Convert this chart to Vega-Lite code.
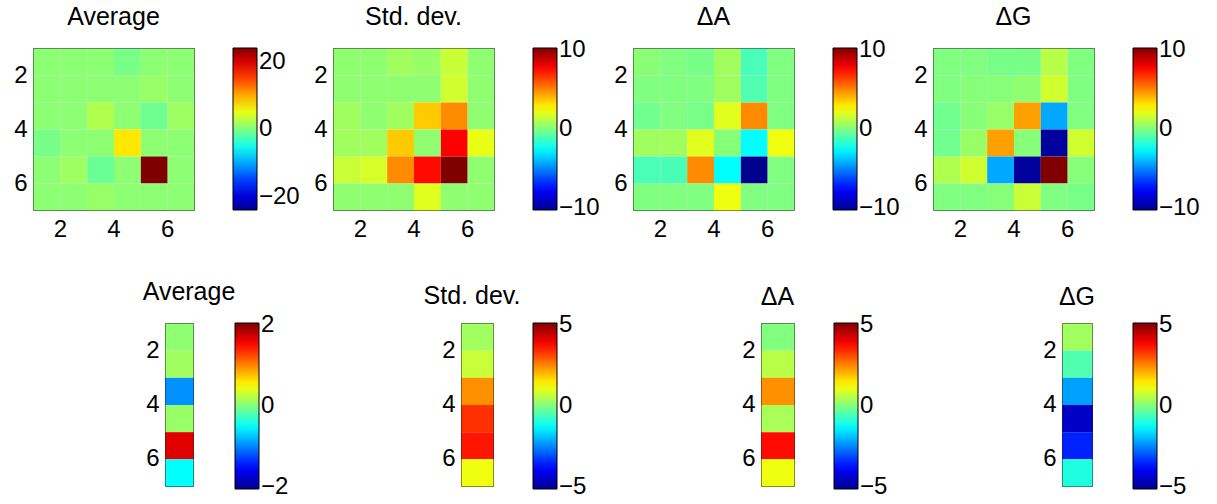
{
  "$schema": "https://vega.github.io/schema/vega-lite/v6.json",
  "padding": {"left": 13, "top": 4, "right": 5, "bottom": 5},
  "config": {
    "font": "Liberation Sans",
    "view": {"stroke": "#222", "strokeWidth": 1},
    "axis": {"labelFont": "Liberation Sans", "labelFontSize": 24, "labelColor": "#000", "ticks": false, "domain": false, "grid": false, "labelFlush": false, "labelOverlap": false, "title": null},
    "axisX": {"labelPadding": 7},
    "axisY": {"labelPadding": 6},
    "legend": {"labelFont": "Liberation Sans", "labelFontSize": 24, "labelColor": "#000", "labelOffset": 6, "gradientStrokeColor": "#000", "gradientStrokeWidth": 1, "gradientThickness": 24, "padding": 0, "labelOverlap": false, "offset": 39, "direction": "vertical"},
    "title": {"font": "Liberation Sans", "fontSize": 25, "fontWeight": "normal", "color": "#000", "offset": 18}
  },
  "datasets": {
    "avg": [
      {"x":1,"y":1,"v":0.6},{"x":2,"y":1,"v":0.6},{"x":3,"y":1,"v":0.6},{"x":4,"y":1,"v":-0.4},{"x":5,"y":1,"v":0.6},{"x":6,"y":1,"v":0.6},
      {"x":1,"y":2,"v":0.6},{"x":2,"y":2,"v":0.6},{"x":3,"y":2,"v":0.6},{"x":4,"y":2,"v":0.6},{"x":5,"y":2,"v":1.2},{"x":6,"y":2,"v":0.6},
      {"x":1,"y":3,"v":0.6},{"x":2,"y":3,"v":0.6},{"x":3,"y":3,"v":2.3},{"x":4,"y":3,"v":0.6},{"x":5,"y":3,"v":-0.8},{"x":6,"y":3,"v":1.4},
      {"x":1,"y":4,"v":-0.4},{"x":2,"y":4,"v":0.6},{"x":3,"y":4,"v":0.6},{"x":4,"y":4,"v":7.1},{"x":5,"y":4,"v":0.6},{"x":6,"y":4,"v":0.6},
      {"x":1,"y":5,"v":0.6},{"x":2,"y":5,"v":1.4},{"x":3,"y":5,"v":-1.0},{"x":4,"y":5,"v":0.6},{"x":5,"y":5,"v":24},{"x":6,"y":5,"v":0.6},
      {"x":1,"y":6,"v":0.6},{"x":2,"y":6,"v":0.6},{"x":3,"y":6,"v":1.2},{"x":4,"y":6,"v":0.6},{"x":5,"y":6,"v":0.6},{"x":6,"y":6,"v":0.6}
    ],
    "std": [
      {"x":1,"y":1,"v":0.3},{"x":2,"y":1,"v":0.3},{"x":3,"y":1,"v":0.65},{"x":4,"y":1,"v":0.5},{"x":5,"y":1,"v":1.45},{"x":6,"y":1,"v":0.3},
      {"x":1,"y":2,"v":0.3},{"x":2,"y":2,"v":0.3},{"x":3,"y":2,"v":0.3},{"x":4,"y":2,"v":0.3},{"x":5,"y":2,"v":1.6},{"x":6,"y":2,"v":0.3},
      {"x":1,"y":3,"v":0.65},{"x":2,"y":3,"v":0.3},{"x":3,"y":3,"v":0.65},{"x":4,"y":3,"v":3.6},{"x":5,"y":3,"v":4.85},{"x":6,"y":3,"v":0.3},
      {"x":1,"y":4,"v":0.65},{"x":2,"y":4,"v":0.65},{"x":3,"y":4,"v":3.6},{"x":4,"y":4,"v":0.3},{"x":5,"y":4,"v":7.65},{"x":6,"y":4,"v":2.1},
      {"x":1,"y":5,"v":1.45},{"x":2,"y":5,"v":1.75},{"x":3,"y":5,"v":4.85},{"x":4,"y":5,"v":7.45},{"x":5,"y":5,"v":10.2},{"x":6,"y":5,"v":0.3},
      {"x":1,"y":6,"v":0.3},{"x":2,"y":6,"v":0.3},{"x":3,"y":6,"v":0.3},{"x":4,"y":6,"v":1.95},{"x":5,"y":6,"v":0.3},{"x":6,"y":6,"v":0.3}
    ],
    "da": [
      {"x":1,"y":1,"v":0.2},{"x":2,"y":1,"v":0},{"x":3,"y":1,"v":-0.15},{"x":4,"y":1,"v":0.65},{"x":5,"y":1,"v":-1.1},{"x":6,"y":1,"v":0},
      {"x":1,"y":2,"v":0},{"x":2,"y":2,"v":0},{"x":3,"y":2,"v":0},{"x":4,"y":2,"v":0.65},{"x":5,"y":2,"v":-0.95},{"x":6,"y":2,"v":0},
      {"x":1,"y":3,"v":-0.3},{"x":2,"y":3,"v":0},{"x":3,"y":3,"v":-0.15},{"x":4,"y":3,"v":1.95},{"x":5,"y":3,"v":4.85},{"x":6,"y":3,"v":0},
      {"x":1,"y":4,"v":0.65},{"x":2,"y":4,"v":0.65},{"x":3,"y":4,"v":1.95},{"x":4,"y":4,"v":0.15},{"x":5,"y":4,"v":-2.55},{"x":6,"y":4,"v":2.25},
      {"x":1,"y":5,"v":-1.1},{"x":2,"y":5,"v":-1.1},{"x":3,"y":5,"v":4.85},{"x":4,"y":5,"v":-2.55},{"x":5,"y":5,"v":-10.2},{"x":6,"y":5,"v":0},
      {"x":1,"y":6,"v":0},{"x":2,"y":6,"v":0},{"x":3,"y":6,"v":0},{"x":4,"y":6,"v":2.25},{"x":5,"y":6,"v":0},{"x":6,"y":6,"v":0}
    ],
    "dg": [
      {"x":1,"y":1,"v":0},{"x":2,"y":1,"v":0},{"x":3,"y":1,"v":-0.15},{"x":4,"y":1,"v":-0.15},{"x":5,"y":1,"v":1.1},{"x":6,"y":1,"v":0},
      {"x":1,"y":2,"v":0},{"x":2,"y":2,"v":0.15},{"x":3,"y":2,"v":0.15},{"x":4,"y":2,"v":0.3},{"x":5,"y":2,"v":1.6},{"x":6,"y":2,"v":0},
      {"x":1,"y":3,"v":-0.3},{"x":2,"y":3,"v":0.15},{"x":3,"y":3,"v":0.5},{"x":4,"y":3,"v":4.45},{"x":5,"y":3,"v":-4.3},{"x":6,"y":3,"v":0},
      {"x":1,"y":4,"v":-0.3},{"x":2,"y":4,"v":0.5},{"x":3,"y":4,"v":4.45},{"x":4,"y":4,"v":0.15},{"x":5,"y":4,"v":-9.9},{"x":6,"y":4,"v":1.6},
      {"x":1,"y":5,"v":0.95},{"x":2,"y":5,"v":1.6},{"x":3,"y":5,"v":-4.3},{"x":4,"y":5,"v":-9.9},{"x":5,"y":5,"v":10.2},{"x":6,"y":5,"v":0.15},
      {"x":1,"y":6,"v":0},{"x":2,"y":6,"v":0},{"x":3,"y":6,"v":0.15},{"x":4,"y":6,"v":1.45},{"x":5,"y":6,"v":0},{"x":6,"y":6,"v":-0.15}
    ],
    "bavg": [
      {"x":1,"y":1,"v":0.06},{"x":1,"y":2,"v":0.13},{"x":1,"y":3,"v":-0.96},{"x":1,"y":4,"v":0.1},{"x":1,"y":5,"v":1.66},{"x":1,"y":6,"v":-0.51}
    ],
    "bstd": [
      {"x":1,"y":1,"v":0.33},{"x":1,"y":2,"v":0.72},{"x":1,"y":3,"v":2.39},{"x":1,"y":4,"v":3.35},{"x":1,"y":5,"v":3.62},{"x":1,"y":6,"v":1.12}
    ],
    "bda": [
      {"x":1,"y":1,"v":0.02},{"x":1,"y":2,"v":0.56},{"x":1,"y":3,"v":2.39},{"x":1,"y":4,"v":0.41},{"x":1,"y":5,"v":3.72},{"x":1,"y":6,"v":1.12}
    ],
    "bdg": [
      {"x":1,"y":1,"v":0.33},{"x":1,"y":2,"v":-0.48},{"x":1,"y":3,"v":-2.22},{"x":1,"y":4,"v":-4.46},{"x":1,"y":5,"v":-3.5},{"x":1,"y":6,"v":-0.96}
    ]
  },
  "resolve": {"scale": {"color": "independent", "x": "independent", "y": "independent"}, "legend": {"color": "independent"}},
  "spacing": 37,
  "vconcat": [
    {
      "hconcat": [
        {
          "width": 161, "height": 162,
          "title": {"text": "Average"},
          "data": {"name": "avg"},
          "mark": {"type": "rect"},
          "encoding": {
            "x": {"field": "x", "type": "quantitative", "bin": {"binned": true, "step": 1}, "scale": {"domain": [1, 7], "nice": false, "zero": false}, "axis": {"values": [2, 4, 6], "title": null}},
            "y": {"field": "y", "type": "quantitative", "bin": {"binned": true, "step": 1}, "scale": {"domain": [1, 7], "nice": false, "zero": false, "reverse": true}, "axis": {"values": [2, 4, 6], "title": null}},
            "color": {"field": "v", "type": "quantitative", "scale": {"type": "linear", "domain": [-24, -18, -6, 6, 18, 24], "range": ["#00008f", "#0000ff", "#00ffff", "#ffff00", "#ff0000", "#800000"], "interpolate": "rgb"}, "legend": {"title": null, "values": [-20, 0, 20], "gradientLength": 162}}
          }
        },
        {
          "width": 161, "height": 162,
          "title": {"text": "Std. dev."},
          "data": {"name": "std"},
          "mark": {"type": "rect"},
          "encoding": {
            "x": {"field": "x", "type": "quantitative", "bin": {"binned": true, "step": 1}, "scale": {"domain": [1, 7], "nice": false, "zero": false}, "axis": {"values": [2, 4, 6], "title": null}},
            "y": {"field": "y", "type": "quantitative", "bin": {"binned": true, "step": 1}, "scale": {"domain": [1, 7], "nice": false, "zero": false, "reverse": true}, "axis": {"values": [2, 4, 6], "title": null}},
            "color": {"field": "v", "type": "quantitative", "scale": {"type": "linear", "domain": [-10.2, -7.65, -2.55, 2.55, 7.65, 10.2], "range": ["#00008f", "#0000ff", "#00ffff", "#ffff00", "#ff0000", "#800000"], "interpolate": "rgb"}, "legend": {"title": null, "values": [-10, 0, 10], "gradientLength": 162}}
          }
        },
        {
          "width": 161, "height": 162,
          "title": {"text": "ΔA"},
          "data": {"name": "da"},
          "mark": {"type": "rect"},
          "encoding": {
            "x": {"field": "x", "type": "quantitative", "bin": {"binned": true, "step": 1}, "scale": {"domain": [1, 7], "nice": false, "zero": false}, "axis": {"values": [2, 4, 6], "title": null}},
            "y": {"field": "y", "type": "quantitative", "bin": {"binned": true, "step": 1}, "scale": {"domain": [1, 7], "nice": false, "zero": false, "reverse": true}, "axis": {"values": [2, 4, 6], "title": null}},
            "color": {"field": "v", "type": "quantitative", "scale": {"type": "linear", "domain": [-10.2, -7.65, -2.55, 2.55, 7.65, 10.2], "range": ["#00008f", "#0000ff", "#00ffff", "#ffff00", "#ff0000", "#800000"], "interpolate": "rgb"}, "legend": {"title": null, "values": [-10, 0, 10], "gradientLength": 162}}
          }
        },
        {
          "width": 161, "height": 162,
          "title": {"text": "ΔG"},
          "data": {"name": "dg"},
          "mark": {"type": "rect"},
          "encoding": {
            "x": {"field": "x", "type": "quantitative", "bin": {"binned": true, "step": 1}, "scale": {"domain": [1, 7], "nice": false, "zero": false}, "axis": {"values": [2, 4, 6], "title": null}},
            "y": {"field": "y", "type": "quantitative", "bin": {"binned": true, "step": 1}, "scale": {"domain": [1, 7], "nice": false, "zero": false, "reverse": true}, "axis": {"values": [2, 4, 6], "title": null}},
            "color": {"field": "v", "type": "quantitative", "scale": {"type": "linear", "domain": [-10.2, -7.65, -2.55, 2.55, 7.65, 10.2], "range": ["#00008f", "#0000ff", "#00ffff", "#ffff00", "#ff0000", "#800000"], "interpolate": "rgb"}, "legend": {"title": null, "values": [-10, 0, 10], "gradientLength": 162}}
          }
        }
      ],
      "spacing": 139,
      "bounds": "flush",
      "resolve": {"scale": {"color": "independent", "x": "independent", "y": "independent"}, "legend": {"color": "independent"}}
    },
    {
      "hconcat": [
        {
          "width": 1, "height": 1,
          "data": {"values": []},
          "mark": {"type": "rect", "opacity": 0},
          "encoding": {},
          "view": {"stroke": null}
        },
        {
          "hconcat": [
            {
              "width": 28, "height": 163,
              "title": {"text": "Average", "dx": 10},
              "data": {"name": "bavg"},
              "mark": {"type": "rect"},
              "encoding": {
                "x": {"field": "x", "type": "quantitative", "bin": {"binned": true, "step": 1}, "scale": {"domain": [1, 2], "nice": false, "zero": false}, "axis": null},
                "y": {"field": "y", "type": "quantitative", "bin": {"binned": true, "step": 1}, "scale": {"domain": [1, 7], "nice": false, "zero": false, "reverse": true}, "axis": {"values": [2, 4, 6], "title": null}},
                "color": {"field": "v", "type": "quantitative", "scale": {"type": "linear", "domain": [-2.05, -1.5375, -0.5125, 0.5125, 1.5375, 2.05], "range": ["#00008f", "#0000ff", "#00ffff", "#ffff00", "#ff0000", "#800000"], "interpolate": "rgb"}, "legend": {"title": null, "values": [-2, 0, 2], "gradientLength": 166, "offset": 42}}
              }
            },
            {
              "width": 32, "height": 163,
              "title": {"text": "Std. dev.", "dx": -5, "dy": 4},
              "data": {"name": "bstd"},
              "mark": {"type": "rect"},
              "encoding": {
                "x": {"field": "x", "type": "quantitative", "bin": {"binned": true, "step": 1}, "scale": {"domain": [1, 2], "nice": false, "zero": false}, "axis": null},
                "y": {"field": "y", "type": "quantitative", "bin": {"binned": true, "step": 1}, "scale": {"domain": [1, 7], "nice": false, "zero": false, "reverse": true}, "axis": {"values": [2, 4, 6], "title": null}},
                "color": {"field": "v", "type": "quantitative", "scale": {"type": "linear", "domain": [-5.1, -3.825, -1.275, 1.275, 3.825, 5.1], "range": ["#00008f", "#0000ff", "#00ffff", "#ffff00", "#ff0000", "#800000"], "interpolate": "rgb"}, "legend": {"title": null, "values": [-5, 0, 5], "gradientLength": 166, "offset": 40}}
              }
            },
            {
              "width": 33, "height": 163,
              "title": {"text": "ΔA", "dy": 5},
              "data": {"name": "bda"},
              "mark": {"type": "rect"},
              "encoding": {
                "x": {"field": "x", "type": "quantitative", "bin": {"binned": true, "step": 1}, "scale": {"domain": [1, 2], "nice": false, "zero": false}, "axis": null},
                "y": {"field": "y", "type": "quantitative", "bin": {"binned": true, "step": 1}, "scale": {"domain": [1, 7], "nice": false, "zero": false, "reverse": true}, "axis": {"values": [2, 4, 6], "title": null}},
                "color": {"field": "v", "type": "quantitative", "scale": {"type": "linear", "domain": [-5.1, -3.825, -1.275, 1.275, 3.825, 5.1], "range": ["#00008f", "#0000ff", "#00ffff", "#ffff00", "#ff0000", "#800000"], "interpolate": "rgb"}, "legend": {"title": null, "values": [-5, 0, 5], "gradientLength": 166, "offset": 40}}
              }
            },
            {
              "width": 30, "height": 163,
              "title": {"text": "ΔG", "dy": 5},
              "data": {"name": "bdg"},
              "mark": {"type": "rect"},
              "encoding": {
                "x": {"field": "x", "type": "quantitative", "bin": {"binned": true, "step": 1}, "scale": {"domain": [1, 2], "nice": false, "zero": false}, "axis": null},
                "y": {"field": "y", "type": "quantitative", "bin": {"binned": true, "step": 1}, "scale": {"domain": [1, 7], "nice": false, "zero": false, "reverse": true}, "axis": {"values": [2, 4, 6], "title": null}},
                "color": {"field": "v", "type": "quantitative", "scale": {"type": "linear", "domain": [-5.1, -3.825, -1.275, 1.275, 3.825, 5.1], "range": ["#00008f", "#0000ff", "#00ffff", "#ffff00", "#ff0000", "#800000"], "interpolate": "rgb"}, "legend": {"title": null, "values": [-5, 0, 5], "gradientLength": 166, "offset": 41}}
              }
            }
          ],
          "spacing": 268,
          "bounds": "flush",
          "resolve": {"scale": {"color": "independent", "x": "independent", "y": "independent"}, "legend": {"color": "independent"}}
        }
      ],
      "spacing": 131,
      "bounds": "flush",
      "resolve": {"scale": {"color": "independent", "x": "independent", "y": "independent"}, "legend": {"color": "independent"}}
    }
  ]
}
